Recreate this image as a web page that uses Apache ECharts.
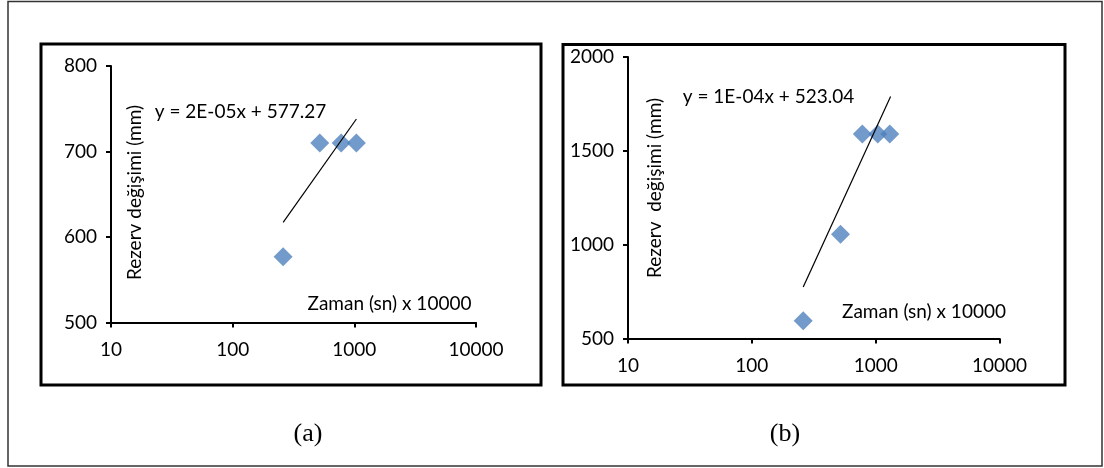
<!DOCTYPE html>
<html><head><meta charset="utf-8">
<script src="https://cdn.jsdelivr.net/npm/echarts@6/dist/echarts.min.js"></script>
<style>html,body{margin:0;padding:0;background:#fff}#c{width:1104px;height:468px}</style>
</head><body><div id="c"></div>
<script>
// Chart (a)
const timeA = [260, 520, 780, 1040];
const levelA = [577, 710, 710, 710];
const trendA_x = [260, 1040];
const trendA_y = [617, 738];
const eqA = 'y = 2E-05x + 577.27';
// Chart (b)
const timeB = [260, 520, 780, 1040, 1300];
const levelB = [595, 1055, 1590, 1590, 1590];
const trendB_x = [260, 1320];
const trendB_y = [775, 1790];
const eqB = 'y = 1E-04x + 523.04';
const xLabel = 'Zaman (sn) x 10000';
const yLabelA = 'Rezerv değişimi (mm)';
const yLabelB = 'Rezerv  değişimi (mm)';
const xTicks = [10, 100, 1000, 10000];

const FS = 'Lato, "Open Sans", sans-serif';
const blue = '#4F81BD';
const chart = echarts.init(document.getElementById('c'));

function xAxis(gi){
  return {type:'log', logBase:10, min:10, max:10000, gridIndex:gi,
    axisLine:{lineStyle:{color:'#000',width:2}},
    axisTick:{show:true,length:5,lineStyle:{color:'#000',width:2}},
    axisLabel:{color:'#000',fontFamily:FS,fontSize:19,margin:18,
      formatter:v=>String(xTicks.find(t=>Math.abs(t-v)<1e-6*t) ?? Math.round(v))},
    splitLine:{show:false}, minorTick:{show:false}};
}
function yAxis(gi,min,max,iv){
  return {type:'value', min:min, max:max, interval:iv, gridIndex:gi,
    axisLine:{show:true,lineStyle:{color:'#000',width:2}},
    axisTick:{show:true,length:5,lineStyle:{color:'#000',width:2}},
    axisLabel:{color:'#000',fontFamily:FS,fontSize:19,margin:14,formatter:v=>String(v)},
    splitLine:{show:false}};
}
const zip=(a,b)=>a.map((v,i)=>[v,b[i]]);
const txt=(x,y,t)=>({type:'text',x:x,y:y,style:{text:t,fill:'#000',font:'19px '+FS,textAlign:'center',textVerticalAlign:'middle'}});

chart.setOption({
  animation:false,
  grid:[
    {left:111, top:66, width:365, height:256.5},
    {left:628, top:57, width:371.5, height:281.5}
  ],
  xAxis:[xAxis(0), xAxis(1)],
  yAxis:[yAxis(0,500,800,100), yAxis(1,500,2000,500)],
  series:[
    {type:'line', xAxisIndex:0, yAxisIndex:0, data:zip(trendA_x,trendA_y), symbol:'none', lineStyle:{color:'#000',width:1.2}, z:3},
    {type:'scatter', xAxisIndex:0, yAxisIndex:0, data:zip(timeA,levelA), symbol:'diamond', symbolSize:[19,19], itemStyle:{color:blue}, z:2},
    {type:'line', xAxisIndex:1, yAxisIndex:1, data:zip(trendB_x,trendB_y), symbol:'none', lineStyle:{color:'#000',width:1.2}, z:3},
    {type:'scatter', xAxisIndex:1, yAxisIndex:1, data:zip(timeB,levelB), symbol:'diamond', symbolSize:[19,19], itemStyle:{color:blue}, z:2}
  ],
  graphic:[
    {type:'rect', shape:{x:8,y:1.5,width:1094,height:464.5}, style:{fill:'none',stroke:'#333',lineWidth:1.5}},
    {type:'rect', shape:{x:41,y:44,width:500,height:341}, style:{fill:'none',stroke:'#000',lineWidth:3}},
    {type:'rect', shape:{x:563,y:44.5,width:502,height:340.5}, style:{fill:'none',stroke:'#000',lineWidth:3}},
    txt(240.5,112,eqA),
    txt(768.5,97,eqB),
    txt(389.5,304,xLabel),
    txt(924,312,xLabel),
    {type:'text', x:135, y:192.5, rotation:Math.PI/2, style:{text:yLabelA,fill:'#000',font:'19px '+FS,textAlign:'center',textVerticalAlign:'middle'}},
    {type:'text', x:655, y:188, rotation:Math.PI/2, style:{text:yLabelB,fill:'#000',font:'19px '+FS,textAlign:'center',textVerticalAlign:'middle'}},
    {type:'text', x:308, y:434, style:{text:'(a)',fill:'#000',font:'26px "Liberation Serif", serif',textAlign:'center',textVerticalAlign:'middle'}},
    {type:'text', x:785, y:434, style:{text:'(b)',fill:'#000',font:'26px "Liberation Serif", serif',textAlign:'center',textVerticalAlign:'middle'}}
  ]
});
</script></body></html>
